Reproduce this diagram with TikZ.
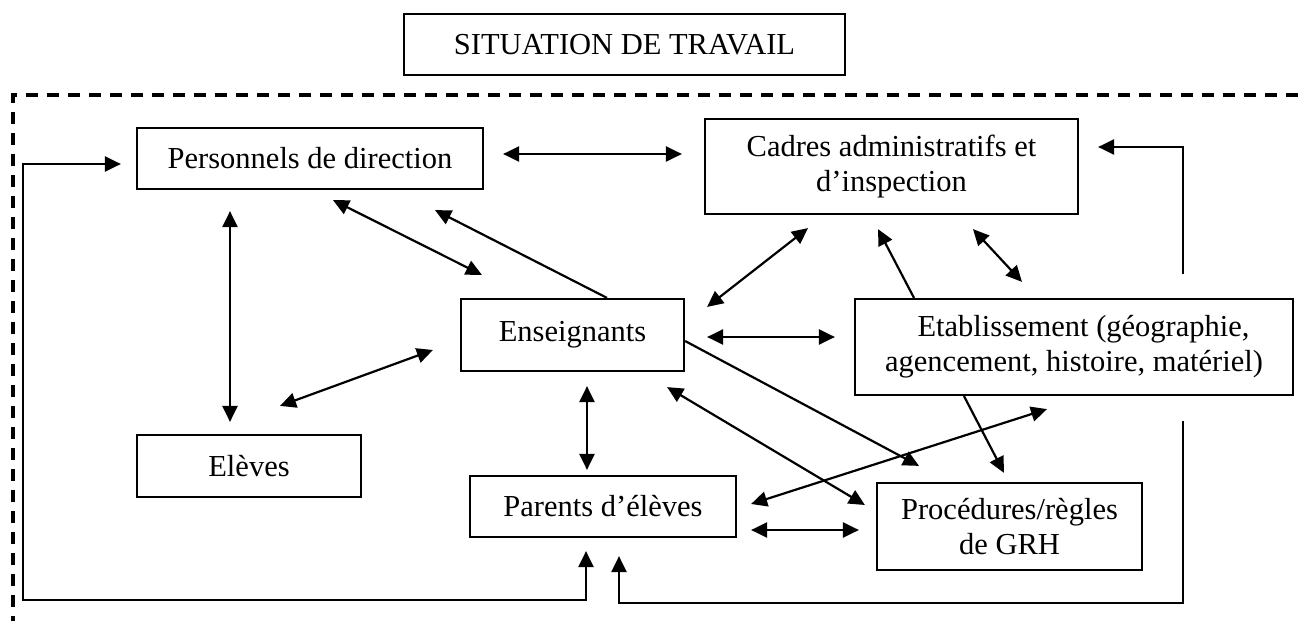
\documentclass[tikz,border=0pt]{standalone}
\usepackage{fontspec}
\setmainfont{Liberation Serif}
\usetikzlibrary{arrows.meta,calc}
\tikzset{
  box/.style={draw, line width=1.1pt, inner sep=0pt, align=center, font=\fontsize{15.25}{17.5}\selectfont},
  conn/.style={line width=1.1pt},
  tip/.tip={Triangle[length=8pt,width=7.5pt]},
  dbl/.style={conn, tip-tip},
  sgl/.style={conn, -tip},
  frame/.style={line width=1.6pt, dash pattern=on 6pt off 4.5pt}
}
\begin{document}
\begin{tikzpicture}[x=0.5pt,y=-0.5pt]
\useasboundingbox (0,0) rectangle (1298,621);
% title
\node[box, minimum width=220.5pt, minimum height=30.5pt] (title) at (624.5,44.5) {SITUATION DE TRAVAIL};
% dashed frame
\coordinate (frTR) at (1298,95);
\coordinate (frTL) at (13,95);
\coordinate (frBL) at (13,621);
\draw[frame] (frTR) -- (frTL) -- (frBL);
% nodes
\node[box, minimum width=173pt, minimum height=30.5pt] (pers) at (310,158.5) {Personnels de direction};
\node[box, minimum width=186.5pt, minimum height=47.5pt] (cadres) at (891.5,166.5) {Cadres administratifs et\\d'inspection};
\node[box, minimum width=111.5pt, minimum height=36pt] (ens) at (572.5,335) {Enseignants};
\node[box, minimum width=219pt, minimum height=48pt] (etab) at (1074,347) {\hspace*{9.5pt}Etablissement (géographie,\\agencement, histoire, matériel)};
\node[box, minimum width=112pt, minimum height=31pt] (eleves) at (249,466) {Elèves};
\node[box, minimum width=133pt, minimum height=30.5pt] (parents) at (603,506.5) {Parents d'élèves};
\node[box, minimum width=132.5pt, minimum height=43.5pt] (proc) at (1009.5,526.5) {Procédures/règles\\de GRH};
% loops
\draw[dbl] ($(pers.west)+(-15,5.5)$) -- ++(-98,0) |- ($(parents.south)+(-17,62)$) -- ($(parents.south)+(-17,13)$);
\draw[sgl] ($(etab.north)+(109,-24)$) |- ($(cadres.east)+(19,-19.5)$);
\draw[sgl] ($(etab.south)+(109,25)$) |- ($(parents.south)+(16,65)$) -- ($(parents.south)+(16,18)$);
% connectors
\draw[dbl] ($(pers.east)+(19,-4.5)$) -- ($(cadres.west)+(-22,-12.5)$);
\draw[dbl] ($(pers.south)+(-80,21)$) -- ($(eleves.north)+(-19,-12)$);
\draw[dbl] ($(pers.south)+(23,10)$) -- ($(ens.north west)+(22,-23)$);
\draw[sgl] ($(ens.north)+(34.5,0)$) -- ($(pers.south)+(125,20)$);
\draw[dbl] ($(ens.north east)+(22,9)$) -- ($(cadres.south)+(-83.5,13)$);
\draw[dbl] ($(ens.east)+(22,2)$) -- ($(etab.west)+(-19,-10)$);
\draw[dbl] ($(eleves.north)+(31,-28)$) -- ($(ens.west)+(-27,15)$);
\draw[dbl] ($(ens.south)+(14.5,14)$) -- ($(parents.north)+(-16,-5)$);
\draw[sgl] ($(ens.east)+(0,6)$) -- ($(proc.north)+(-90.5,-16)$);
\draw[dbl] ($(ens.south east)+(-18,15)$) -- ($(proc.west)+(-11,-21.5)$);
\draw[dbl] ($(parents.east)+(14,-2.5)$) -- ($(etab.south)+(-27,13)$);
\draw[dbl] ($(parents.east)+(14,23.5)$) -- ($(proc.west)+(-17,3.5)$);
\draw[sgl] ($(etab.south)+(-110,0)$) -- ($(proc.north)+(-5.5,-9)$);
\draw[sgl] ($(etab.north)+(-160,0)$) -- ($(cadres.south)+(-13.5,14)$);
\draw[dbl] ($(cadres.south)+(81.5,14)$) -- ($(etab.north)+(-52,-16)$);
\end{tikzpicture}
\end{document}
